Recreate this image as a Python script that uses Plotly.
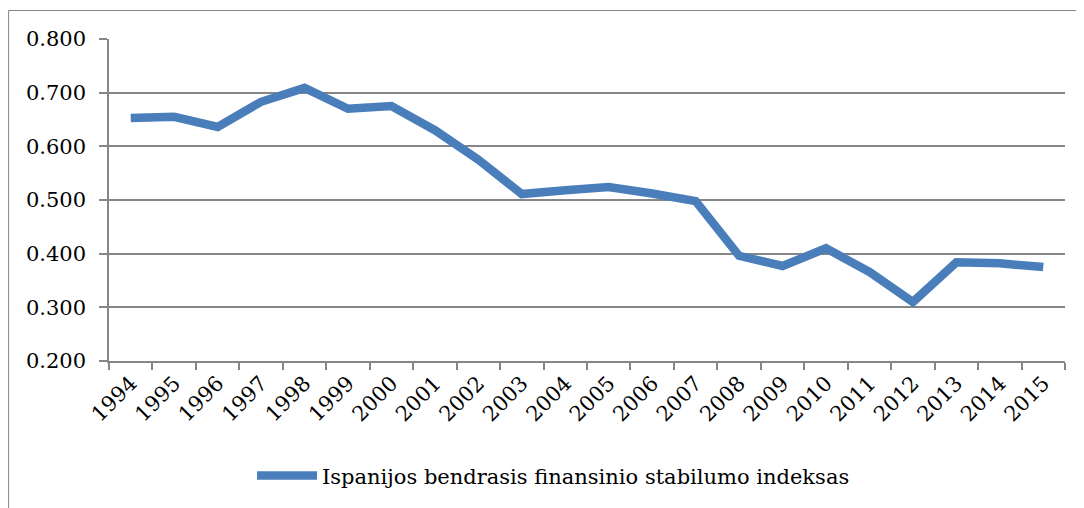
import plotly.graph_objects as go

years = [str(y) for y in range(1994, 2016)]
values = [0.653, 0.655, 0.636, 0.683, 0.709, 0.670, 0.675, 0.630, 0.575, 0.511, 0.518,
          0.524, 0.512, 0.498, 0.396, 0.377, 0.410, 0.366, 0.310, 0.384, 0.382, 0.375]
series_name = "Ispanijos bendrasis finansinio stabilumo indeksas"

font_family = "DejaVu Serif"
fs = 21
grid_color = "#868686"

fig = go.Figure()
fig.add_trace(go.Scatter(
    x=years, y=values, mode="lines", name=series_name,
    line=dict(color="#4A7EBB", width=8.5),
))

fig.update_layout(
    width=1076, height=500,
    margin=dict(l=101, r=19, t=31, b=147, autoexpand=False),
    paper_bgcolor="white", plot_bgcolor="white",
    font=dict(family=font_family, size=fs, color="black"),
    showlegend=True,
    legend=dict(orientation="h", x=0.465, xanchor="center", y=-0.357, yanchor="middle",
                font=dict(family=font_family, size=fs), itemwidth=60),
    shapes=[dict(type="rect", xref="paper", yref="paper",
                 x0=-0.105, x1=1.0136, y0=-0.47, y1=1.0885,
                 line=dict(color=grid_color, width=1))],
)
fig.update_xaxes(
    type="category", range=[-0.5, len(years) - 0.5], tickangle=-45, tickson="boundaries",
    ticks="outside", ticklen=7, tickcolor=grid_color, tickwidth=1.5,
    showline=True, linecolor=grid_color, linewidth=1.5,
    showgrid=False, tickfont=dict(family=font_family, size=fs), automargin=False,
)
fig.update_yaxes(
    range=[0.2, 0.8], dtick=0.1, tickformat=".3f",
    ticks="outside", ticklen=8, tickcolor=grid_color, tickwidth=1.5,
    showline=True, linecolor=grid_color, linewidth=1.5,
    showgrid=True, gridcolor=grid_color, gridwidth=1.5,
    zeroline=False, tickfont=dict(family=font_family, size=fs), automargin=False,
    ticklabelstandoff=9,
)

fig.write_html("out.html")
